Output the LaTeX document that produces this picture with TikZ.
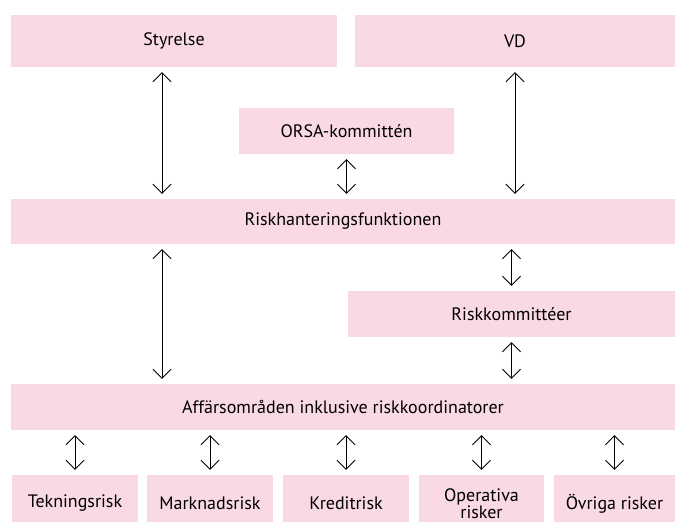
\documentclass[tikz,border=0pt]{standalone}
\usepackage{fontspec}
\setmainfont{PT Sans}
\usetikzlibrary{arrows.meta}
\definecolor{rosa}{RGB}{249,217,227}
\begin{document}
\begin{tikzpicture}[x=1pt,y=-1pt,
 ruta/.style={fill=rosa,inner sep=0pt,align=center,font=\fontsize{18}{16.5}\selectfont},
 pil/.style={{Straight Barb[length=9pt,width=18pt]}-{Straight Barb[length=9pt,width=18pt]},line width=.8pt,shorten <=5pt,shorten >=5pt}]
 \useasboundingbox (0,0) rectangle (675,522);
 \node[ruta,minimum width=326pt,minimum height=52pt] (styrelse) at (174,41) {Styrelse};
 \node[ruta,minimum width=320pt,minimum height=52pt] (vd) at (515,41) {VD};
 \node[ruta,minimum width=215pt,minimum height=46pt] (orsa) at (346.5,131) {ORSA-kommittén};
 \node[ruta,minimum width=664pt,minimum height=45pt] (risk) at (343,221.5) {Riskhanteringsfunktionen};
 \node[ruta,minimum width=327pt,minimum height=46pt] (kommitte) at (511.5,314) {Riskkommittéer};
 \node[ruta,minimum width=664pt,minimum height=46pt] (affar) at (343,407) {Affärsområden inklusive riskkoordinatorer};
 \node[ruta,minimum width=126pt,minimum height=57pt] (teckning) at (75,503.5) {Tekningsrisk};
 \node[ruta,minimum width=126pt,minimum height=57pt] (marknad) at (210,503.5) {Marknadsrisk};
 \node[ruta,minimum width=126pt,minimum height=57pt] (kredit) at (346,503.5) {Kreditrisk};
 \node[ruta,minimum width=125pt,minimum height=57pt] (operativ) at (481.5,503.5) {Operativa\\risker};
 \node[ruta,minimum width=121pt,minimum height=57pt] (ovriga) at (614.5,503.5) {Övriga risker};
 \draw[pil] ([xshift=-12pt]styrelse.south) -- ([xshift=-12pt]styrelse.south |- risk.north);
 \draw[pil] (vd.south) -- (vd.south |- risk.north);
 \draw[pil] (orsa.south) -- (orsa.south |- risk.north);
 \draw[pil] ([xshift=-181pt]risk.south) -- ([xshift=-181pt]risk.south |- affar.north);
 \draw[pil] (kommitte.north |- risk.south) -- (kommitte.north);
 \draw[pil] (kommitte.south) -- (kommitte.south |- affar.north);
 \foreach \r in {teckning,marknad,kredit,operativ,ovriga}
  \draw[pil] (\r.north |- affar.south) -- (\r.north);
\end{tikzpicture}
\end{document}
